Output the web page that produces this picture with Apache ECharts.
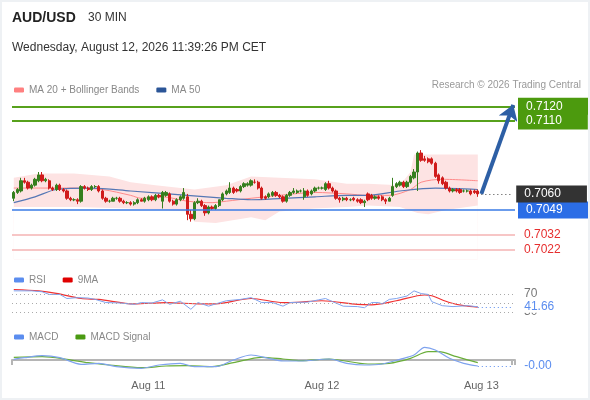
<!DOCTYPE html>
<html>
<head>
<meta charset="utf-8">
<script src="https://cdn.jsdelivr.net/npm/echarts@6/dist/echarts.min.js"></script>
<style>
html,body{margin:0;padding:0;background:#fff;}
#chart{width:590px;height:400px;}
#frame{position:fixed;left:0;top:0;width:590px;height:400px;box-sizing:border-box;border:2px solid #eef1f4;pointer-events:none;}
</style>
</head>
<body>
<div id="chart"></div>
<div id="frame"></div>
<script>
// 30 min candles, AUD/USD
var opens = [0.7057,0.7061,0.7062,0.7069,0.7068,0.7064,0.7066,0.7069,0.7073,0.7069,
  0.7069,0.7064,0.7063,0.7066,0.7063,0.7062,0.7057,0.7056,0.7056,0.7055,
  0.7065,0.7064,0.7063,0.7065,0.7065,0.7062,0.7057,0.7055,0.7055,0.7057,
  0.7057,0.7055,0.7054,0.7054,0.7053,0.7054,0.7056,0.7055,0.7056,0.7058,
  0.7056,0.7059,0.7055,0.7059,0.7060,0.7055,0.7053,0.7056,0.7057,0.7058,
  0.7046,0.7043,0.7054,0.7055,0.7052,0.7047,0.7051,0.7050,0.7052,0.7056,
  0.7060,0.7061,0.7064,0.7063,0.7062,0.7065,0.7066,0.7066,0.7068,0.7068,
  0.7064,0.7058,0.7058,0.7059,0.7061,0.7059,0.7058,0.7055,0.7059,0.7061,
  0.7061,0.7062,0.7058,0.7062,0.7060,0.7062,0.7064,0.7064,0.7063,0.7067,
  0.7064,0.7062,0.7057,0.7056,0.7057,0.7056,0.7057,0.7056,0.7056,0.7054,
  0.7060,0.7059,0.7057,0.7058,0.7058,0.7056,0.7055,0.7059,0.7065,0.7066,
  0.7068,0.7065,0.7068,0.7071,0.7075,0.7088,0.7084,0.7084,0.7084,0.7081,
  0.7073,0.7071,0.7068,0.7064,0.7062,0.7063,0.7063,0.7062,0.7062,0.7062,
  0.7062,0.7062];
var closes = [0.7061,0.7063,0.7069,0.7068,0.7064,0.7066,0.7070,0.7073,0.7069,0.7070,
  0.7064,0.7063,0.7066,0.7063,0.7062,0.7057,0.7056,0.7056,0.7055,0.7065,
  0.7064,0.7063,0.7065,0.7065,0.7062,0.7057,0.7055,0.7055,0.7057,0.7057,
  0.7055,0.7054,0.7054,0.7053,0.7054,0.7056,0.7055,0.7057,0.7058,0.7056,
  0.7059,0.7058,0.7061,0.7061,0.7055,0.7053,0.7056,0.7058,0.7061,0.7046,
  0.7043,0.7054,0.7055,0.7052,0.7047,0.7051,0.7050,0.7052,0.7056,0.7060,
  0.7062,0.7064,0.7061,0.7062,0.7065,0.7067,0.7067,0.7069,0.7068,0.7064,
  0.7057,0.7057,0.7060,0.7061,0.7059,0.7058,0.7055,0.7059,0.7061,0.7062,
  0.7062,0.7062,0.7062,0.7059,0.7062,0.7064,0.7064,0.7064,0.7067,0.7064,
  0.7062,0.7057,0.7056,0.7057,0.7056,0.7056,0.7056,0.7055,0.7054,0.7055,
  0.7056,0.7057,0.7058,0.7057,0.7056,0.7055,0.7057,0.7065,0.7067,0.7068,
  0.7065,0.7068,0.7072,0.7075,0.7088,0.7083,0.7083,0.7082,0.7081,0.7072,
  0.7069,0.7067,0.7064,0.7062,0.7063,0.7062,0.7061,0.7062,0.7062,0.7060,
  0.7061,0.7060];
var highs = [0.7062,0.7064,0.7071,0.7071,0.7069,0.7067,0.7071,0.7075,0.7075,0.7071,
  0.7070,0.7065,0.7067,0.7067,0.7064,0.7063,0.7058,0.7057,0.7057,0.7066,
  0.7066,0.7065,0.7066,0.7066,0.7066,0.7063,0.7058,0.7056,0.7058,0.7058,
  0.7058,0.7056,0.7055,0.7055,0.7055,0.7057,0.7057,0.7058,0.7059,0.7059,
  0.7060,0.7060,0.7062,0.7062,0.7061,0.7056,0.7057,0.7059,0.7064,0.7060,
  0.7049,0.7055,0.7057,0.7056,0.7053,0.7052,0.7052,0.7053,0.7056,0.7061,
  0.7063,0.7068,0.7065,0.7064,0.7066,0.7068,0.7068,0.7070,0.7070,0.7069,
  0.7065,0.7059,0.7061,0.7062,0.7062,0.7060,0.7059,0.7060,0.7062,0.7064,
  0.7063,0.7063,0.7064,0.7063,0.7063,0.7065,0.7065,0.7065,0.7068,0.7069,
  0.7065,0.7063,0.7058,0.7058,0.7058,0.7057,0.7058,0.7057,0.7057,0.7056,
  0.7061,0.7060,0.7059,0.7059,0.7059,0.7057,0.7058,0.7071,0.7068,0.7069,
  0.7069,0.7069,0.7073,0.7077,0.7089,0.7090,0.7086,0.7085,0.7085,0.7082,
  0.7074,0.7072,0.7069,0.7065,0.7064,0.7064,0.7064,0.7063,0.7063,0.7063,
  0.7063,0.7063];
var lows = [0.7055,0.7060,0.7061,0.7067,0.7063,0.7063,0.7065,0.7068,0.7068,0.7068,
  0.7063,0.7062,0.7062,0.7062,0.7061,0.7056,0.7055,0.7055,0.7053,0.7054,
  0.7063,0.7062,0.7062,0.7064,0.7061,0.7056,0.7054,0.7054,0.7055,0.7056,
  0.7054,0.7053,0.7053,0.7052,0.7052,0.7053,0.7055,0.7054,0.7055,0.7055,
  0.7055,0.7057,0.7050,0.7058,0.7054,0.7052,0.7052,0.7055,0.7056,0.7042,
  0.7041,0.7042,0.7053,0.7051,0.7045,0.7046,0.7049,0.7049,0.7051,0.7055,
  0.7059,0.7060,0.7060,0.7061,0.7061,0.7064,0.7065,0.7065,0.7067,0.7063,
  0.7056,0.7056,0.7057,0.7058,0.7058,0.7057,0.7054,0.7054,0.7058,0.7060,
  0.7060,0.7061,0.7056,0.7058,0.7059,0.7061,0.7063,0.7063,0.7062,0.7063,
  0.7061,0.7056,0.7054,0.7055,0.7055,0.7055,0.7055,0.7054,0.7053,0.7051,
  0.7055,0.7056,0.7056,0.7056,0.7055,0.7053,0.7055,0.7058,0.7064,0.7065,
  0.7064,0.7064,0.7067,0.7070,0.7062,0.7082,0.7082,0.7081,0.7080,0.7071,
  0.7067,0.7066,0.7063,0.7061,0.7061,0.7061,0.7060,0.7061,0.7061,0.7059,
  0.7060,0.7058];

// indicators, [candle index, value]
var ma20 = [[0,0.7064],[8,0.7064],[17,0.7064],[25,0.7063],[33,0.7059],[36,0.7057],[42,0.7058],[49,0.7055],
  [56,0.7054],[60,0.7055],[67,0.7057],[75,0.7059],[85,0.7061],[94,0.7060],[100,0.7059],[106,0.7059],
  [112,0.7063],[115,0.7068],[121,0.7070],[131,0.7069]];
var ma50 = [[0,0.7054],[6,0.7058],[12,0.7063],[22,0.7064],[33,0.7062],[49,0.7059],[60,0.7057],[67,0.7056],
  [76,0.7057],[85,0.7058],[94,0.7059],[100,0.7059],[109,0.7062],[119,0.7064],[131,0.7063]];
var bbUpper = [[0,0.7071],[7,0.7074],[17,0.7074],[27,0.7072],[33,0.7068],[40,0.7066],[51,0.7063],[60,0.7066],
  [67,0.7072],[75,0.7071],[85,0.7070],[94,0.7067],[100,0.7067],[109,0.7066],[112,0.7075],[113,0.7087],[131,0.7087]];
var bbLower = [[0,0.7051],[17,0.7051],[33,0.7050],[42,0.7049],[49,0.7048],[51,0.7041],[57,0.7040],[67,0.7044],
  [71,0.7042],[75,0.7048],[85,0.7050],[94,0.7051],[100,0.7052],[109,0.7051],[114,0.7047],[117,0.7046],
  [122,0.7049],[131,0.7052]];
var rsi = [[0,77],[5,77],[8,75],[10,69],[13,69],[15,60],[18,62],[21,61],[23,58],[26,51],[30,50],[34,47],
  [36,51],[39,50],[42,57],[44,47],[47,54],[50,36],[52,51],[55,43],[57,48],[60,55],[64,58],[67,62],[70,51],
  [73,51],[76,43],[78,51],[83,52],[86,57],[88,60],[90,53],[93,43],[97,42],[99,39.5],[101,51],[103,51],
  [104,48],[106,58],[108,60],[111,65.5],[113,77],[115,71],[117,69],[118,53],[121,44],[124,42],[128,44],[131,41.66]];
var rsiMa = [[0,80],[7,77],[12,71.5],[19,60],[24,58],[34,48],[43,51],[53,48],[57,48],[67,60],[76,51],[78,51],
  [87,55],[97,47],[101,46],[108,55],[116,67.8],[118,66],[123,51],[127,44],[131,41]];
var macd = [[0,0.000007],[3,0.000023],[8,0.000043],[13,0.000023],[19,-0.000043],[24,-0.000033],[29,-0.000067],
  [36,-0.000083],[41,-0.00005],[47,-0.000033],[51,-0.000067],[57,-0.000067],[62,0],[67,0.00005],[72,0.000017],
  [76,-0.00001],[81,-0.00001],[89,0.00001],[94,-0.000033],[99,-0.00005],[104,-0.00004],[109,0.000007],
  [113,0.00005],[116,0.000127],[119,0.0001],[123,0.000017],[127,-0.000033],[131,-0.00006]];
var macdSignal = [[0,0.000027],[8,0.000033],[15,0.000007],[21,-0.000027],[27,-0.00005],[36,-0.000077],
  [43,-0.00006],[49,-0.000057],[56,-0.000067],[62,-0.000027],[70,0.000027],[76,0.00001],[81,-0.000007],
  [89,0.00001],[100,-0.00004],[106,-0.000033],[112,0.000017],[117,0.000083],[120,0.000083],[125,0.000033],
  [131,-0.000027]];

var tickLabels = ['Aug 11', 'Aug 12', 'Aug 13'];
var tickIndex = [38, 87, 132];

var resistance = [0.7120, 0.7110];
var support = 0.7049;
var lowerLevels = [0.7032, 0.7022];
var lastPrice = 0.7060;
var target = 0.7121;
var rsiLevels = [70, 50, 30];
var rsiLast = 41.66;

var n = closes.length;
var extra = 10;
var total = n + extra;
var categories = [];
for (var i = 0; i < total; i++) categories.push(String(i));
var candles = [];
for (var i = 0; i < n; i++) candles.push([opens[i], closes[i], lows[i], highs[i]]);
var lastMacd = macd[macd.length - 1][1];

function boxLabel(txt, bg, fg) {
    return {
        show: true, position: 'end', distance: 3, formatter: txt,
        color: fg, fontSize: 12, lineHeight: 13,
        backgroundColor: bg, padding: [2, 26, 2, 8]
    };
}

var priceLines = [];
resistance.forEach(function (v) {
    priceLines.push({yAxis: v, lineStyle: {color: '#57a11c', width: 2, type: 'solid'},
        label: boxLabel(v.toFixed(4), '#4c9a0e', '#fff')});
});
priceLines.push({yAxis: support, lineStyle: {color: '#3a7be6', width: 1.5, type: 'solid'},
    label: boxLabel(support.toFixed(4), '#2b6de6', '#fff')});
lowerLevels.forEach(function (v) {
    priceLines.push({yAxis: v, lineStyle: {color: '#f5b3b3', width: 1.5, type: 'solid'},
        label: {show: true, position: 'end', distance: 9, formatter: v.toFixed(4), color: '#e62e2e', fontSize: 12}});
});
priceLines.push([
    {coord: [n, lastPrice], lineStyle: {color: '#444', width: 1, type: [1, 3]}, label: boxLabel(lastPrice.toFixed(4), '#333', '#fff')},
    {coord: [total - 1, lastPrice]}
]);

var rsiLines = rsiLevels.map(function (v) {
    return {yAxis: v, lineStyle: {color: '#aaa', width: 1, type: [1, 3]},
        label: v === 50 ? {show: false} : {show: true, position: 'end', distance: 9, formatter: String(v), color: '#777', fontSize: 12}};
});
rsiLines.push([
    {coord: [n - 1, rsiLast], lineStyle: {color: '#5b8def', width: 1, type: [1, 3]},
        label: {show: true, position: 'end', distance: 11, formatter: rsiLast.toFixed(2), color: '#5b8def', fontSize: 12, backgroundColor: '#fff', padding: [0, 4, 0, 0]}},
    {coord: [total - 1, rsiLast]}
]);

var chart = echarts.init(document.getElementById('chart'));
var legendText = {color: '#888', fontSize: 10, fontFamily: 'Arial'};
chart.setOption({
    animation: false,
    textStyle: {fontFamily: 'Arial'},
    title: [
        {text: 'AUD/USD', left: 12, top: 11, padding: 0, textStyle: {fontSize: 14, fontWeight: 'bold', color: '#222'}},
        {text: '30 MIN', left: 88, top: 12, padding: 0, textStyle: {fontSize: 12, fontWeight: 'normal', color: '#333'}},
        {text: 'Wednesday, August 12, 2026 11:39:26 PM CET', left: 12, top: 42, padding: 0, textStyle: {fontSize: 12, fontWeight: 'normal', color: '#333'}},
        {text: 'Research \u00a9 2026 Trading Central', right: 9, top: 80, padding: 0, textStyle: {fontSize: 10, fontWeight: 'normal', color: '#999'}}
    ],
    legend: [
        {data: ['MA 20 + Bollinger Bands', 'MA 50'], left: 9, top: 80, icon: 'roundRect', itemWidth: 10, itemHeight: 5, itemGap: 17, selectedMode: false, textStyle: legendText},
        {data: ['RSI', '9MA'], left: 9, top: 270, icon: 'roundRect', itemWidth: 10, itemHeight: 5, itemGap: 17, selectedMode: false, textStyle: legendText},
        {data: ['MACD', 'MACD Signal'], left: 9, top: 327, icon: 'roundRect', itemWidth: 10, itemHeight: 5, itemGap: 17, selectedMode: false, textStyle: legendText}
    ],
    grid: [
        {left: 12, right: 75, top: 99, height: 160.6},
        {left: 12, right: 75, top: 285, height: 36},
        {left: 12, right: 75, top: 340, height: 32}
    ],
    xAxis: [
        {type: 'category', gridIndex: 0, data: categories, boundaryGap: true, show: false},
        {type: 'category', gridIndex: 1, data: categories, boundaryGap: true, show: false},
        {type: 'category', gridIndex: 2, data: categories, boundaryGap: true,
            axisLine: {show: true, lineStyle: {color: '#b5b5b5', width: 2}},
            axisTick: {show: true, length: 5, lineStyle: {color: '#b5b5b5', width: 2},
                interval: function (i) { return i === 0 || i === total - 1; }},
            axisLabel: {color: '#666', fontSize: 11, margin: 8,
                interval: function (i) { return tickIndex.indexOf(i) >= 0; },
                formatter: function (v, i) { return tickLabels[tickIndex.indexOf(i)] || ''; }},
            splitLine: {show: false}}
    ],
    yAxis: [
        {type: 'value', gridIndex: 0, min: 0.7015, max: 0.7125, show: false, splitLine: {show: false}},
        {type: 'value', gridIndex: 1, min: 10, max: 90, show: false, splitLine: {show: false}},
        {type: 'value', gridIndex: 2, min: -0.00012, max: 0.0002, show: false, splitLine: {show: false}}
    ],
    series: [
        {name: 'bbUpper', type: 'line', xAxisIndex: 0, yAxisIndex: 0, data: bbUpper, z: 1,
            showSymbol: false, symbol: 'none', lineStyle: {width: 0}, areaStyle: {color: '#fde3e3', opacity: 1, origin: 'start'}},
        {name: 'bbLower', type: 'line', xAxisIndex: 0, yAxisIndex: 0, data: bbLower, z: 1,
            showSymbol: false, symbol: 'none', lineStyle: {width: 0}, areaStyle: {color: '#ffffff', opacity: 1, origin: 'start'}},
        {name: 'MA 20 + Bollinger Bands', type: 'line', xAxisIndex: 0, yAxisIndex: 0, data: ma20, z: 3,
            symbol: 'none', smooth: 0.3, color: '#ff8080', lineStyle: {color: '#ff8a8a', width: 1}},
        {name: 'MA 50', type: 'line', xAxisIndex: 0, yAxisIndex: 0, data: ma50, z: 3,
            symbol: 'none', smooth: 0.3, color: '#2b5597', lineStyle: {color: '#5577b5', width: 1.2}},
        {name: 'price', type: 'candlestick', xAxisIndex: 0, yAxisIndex: 0, data: candles, z: 4, barWidth: 2.8,
            itemStyle: {color: '#367f1e', color0: '#d01b1b', borderColor: '#367f1e', borderColor0: '#d01b1b', borderWidth: 1},
            markLine: {silent: true, symbol: 'none', animation: false, precision: 4, data: priceLines}},
        {name: 'arrow', type: 'lines', coordinateSystem: 'cartesian2d', xAxisIndex: 0, yAxisIndex: 0, z: 5,
            symbol: ['none', 'arrow'], symbolSize: [4, 15],
            lineStyle: {color: '#2d5fa5', width: 4, opacity: 1},
            data: [{coords: [[n, lastPrice], [total - 1, target]]}]},
        {name: 'RSI', type: 'line', xAxisIndex: 1, yAxisIndex: 1, data: rsi, symbol: 'none', color: '#5b8def',
            lineStyle: {color: '#7fa3ee', width: 1}, z: 3,
            markLine: {silent: true, symbol: 'none', animation: false, precision: 2, data: rsiLines}},
        {name: '9MA', type: 'line', xAxisIndex: 1, yAxisIndex: 1, data: rsiMa, symbol: 'none', smooth: 0.3, color: '#e00000',
            lineStyle: {color: '#f03030', width: 1.2}, z: 2},
        {name: 'MACD', type: 'line', xAxisIndex: 2, yAxisIndex: 2, data: macd, symbol: 'none', smooth: 0.3, color: '#5b8def',
            lineStyle: {color: '#7fa3ee', width: 1.2}, z: 3,
            markLine: {silent: true, symbol: 'none', animation: false, precision: 6, data: [[
                {coord: [n - 1, lastMacd], lineStyle: {color: '#5b8def', width: 1, type: [1, 3]},
                    label: {show: true, position: 'end', distance: 11, formatter: lastMacd.toFixed(2), color: '#5b8def', fontSize: 12}},
                {coord: [total - 1, lastMacd]}
            ]]}},
        {name: 'MACD Signal', type: 'line', xAxisIndex: 2, yAxisIndex: 2, data: macdSignal, symbol: 'none', smooth: 0.3, color: '#4a9a12',
            lineStyle: {color: '#6aae3a', width: 1.2}, z: 2}
    ]
});
</script>
</body>
</html>
